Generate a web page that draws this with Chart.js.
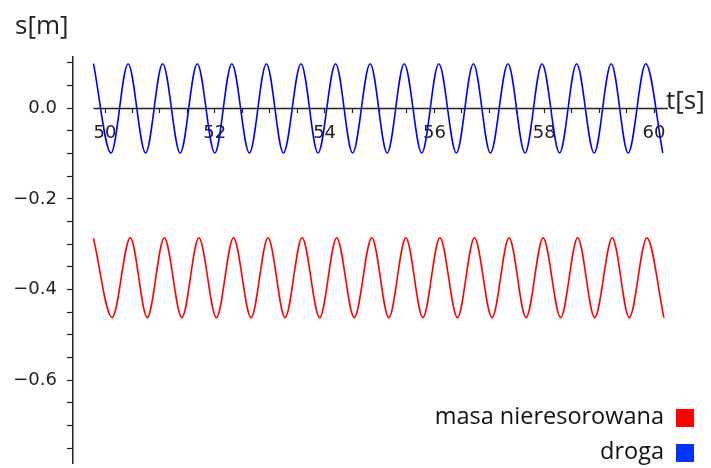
<!DOCTYPE html>
<html>
<head>
<meta charset="utf-8">
<script src="https://cdn.jsdelivr.net/npm/chart.js@4/dist/chart.umd.min.js"></script>
<style>
  html, body { margin: 0; padding: 0; background: #fff; }
  #wrap { width: 711px; height: 468px; }
</style>
</head>
<body>
<div id="wrap"><canvas id="plot" width="711" height="468"></canvas></div>
<script>
// extrema of each curve (time [s], position [m])
const drogaTimes = [49.79, 50.11, 50.42, 50.74, 51.05, 51.37, 51.68, 52.00, 52.31, 52.63,
  52.94, 53.25, 53.57, 53.88, 54.20, 54.51, 54.83, 55.14, 55.45, 55.77, 56.08, 56.40,
  56.71, 57.02, 57.34, 57.65, 57.96, 58.28, 58.59, 58.91, 59.22, 59.53, 59.85, 60.16];
const drogaValues = [0.098, -0.099, 0.098, -0.099, 0.098, -0.099, 0.098, -0.099, 0.098, -0.099,
  0.098, -0.099, 0.098, -0.099, 0.098, -0.099, 0.098, -0.099, 0.098, -0.099, 0.098, -0.099,
  0.098, -0.099, 0.098, -0.099, 0.098, -0.099, 0.098, -0.099, 0.098, -0.099, 0.098, -0.099];

const masaTimes = [49.79, 50.13, 50.46, 50.77, 51.08, 51.40, 51.71, 52.03, 52.34, 52.66,
  52.97, 53.28, 53.59, 53.91, 54.22, 54.54, 54.86, 55.17, 55.48, 55.79, 56.10, 56.42,
  56.73, 57.05, 57.36, 57.67, 57.98, 58.30, 58.61, 58.92, 59.24, 59.55, 59.87, 60.18];
const masaValues = [-0.287, -0.462, -0.286, -0.462, -0.286, -0.462, -0.286, -0.462, -0.286, -0.462,
  -0.286, -0.462, -0.286, -0.462, -0.286, -0.462, -0.286, -0.462, -0.286, -0.462, -0.286, -0.462,
  -0.286, -0.462, -0.286, -0.462, -0.286, -0.462, -0.286, -0.462, -0.286, -0.462, -0.286, -0.462];

const seriesNames = ["masa nieresorowana", "droga"];
const xLabeledTicks = [50, 52, 54, 56, 58, 60];
const yLabeledTicks = [-0.6, -0.4, -0.2, 0.0];

function toPoints(times, values) {
  return times.map((t, i) => ({ x: t, y: values[i] }));
}

const axisColor = "#222";

// x axis line (drawn at y = 0, only over the data range), axis names and legend
const extras = {
  id: "extras",
  afterDraw(chart) {
    const ctx = chart.ctx;
    const xs = chart.scales.x;
    const ys = chart.scales.y;
    const y0 = Math.round(ys.getPixelForValue(0)) + 0.5;
    ctx.save();
    ctx.strokeStyle = axisColor;
    ctx.lineWidth = 1.3;
    ctx.beginPath();
    ctx.moveTo(xs.getPixelForValue(drogaTimes[0]), y0);
    ctx.lineTo(chart.chartArea.right, y0);
    ctx.stroke();

    ctx.fillStyle = "#222";
    ctx.font = "26px 'Open Sans'";
    ctx.textBaseline = "middle";
    ctx.textAlign = "left";
    ctx.fillText("s[m]", 15, 27);
    ctx.fillText("t[s]", 666, y0 - 7);

    ctx.font = "23.5px 'Open Sans'";
    ctx.textAlign = "right";
    const rows = [
      { text: seriesNames[0], color: "#ff0000", y: 417 },
      { text: seriesNames[1], color: "#0033ff", y: 452 }
    ];
    rows.forEach((r) => {
      ctx.fillStyle = "#111";
      ctx.fillText(r.text, 664, r.y);
      ctx.fillStyle = r.color;
      ctx.fillRect(676, r.y - 8, 18, 18);
    });
    ctx.restore();
  }
};

new Chart(document.getElementById("plot").getContext("2d"), {
  type: "line",
  data: {
    datasets: [
      {
        label: seriesNames[0],
        data: toPoints(masaTimes, masaValues),
        borderColor: "#ff0000",
        borderWidth: 1.6,
        pointRadius: 0,
        cubicInterpolationMode: "monotone",
        fill: false
      },
      {
        label: seriesNames[1],
        data: toPoints(drogaTimes, drogaValues),
        borderColor: "#0000ff",
        borderWidth: 1.6,
        pointRadius: 0,
        cubicInterpolationMode: "monotone",
        fill: false
      }
    ]
  },
  plugins: [extras],
  options: {
    responsive: false,
    animation: false,
    layout: { padding: { top: 57, right: 43, bottom: 5, left: 0 } },
    plugins: {
      legend: { display: false },
      tooltip: { enabled: false }
    },
    scales: {
      x: {
        type: "linear",
        position: { y: 0 },
        min: 49.417,
        max: 60.255,
        afterFit(scale) {
          scale.height = 0;
          scale.paddingLeft = 0;
          scale.paddingRight = 0;
        },
        afterBuildTicks(scale) {
          const ticks = [];
          for (let v = 50; v <= 60.001; v += 0.5) ticks.push({ value: Math.round(v * 10) / 10 });
          scale.ticks = ticks;
        },
        border: { display: false },
        grid: {
          drawOnChartArea: false,
          drawTicks: true,
          tickLength: 5,
          tickColor: axisColor,
          tickWidth: 1.2
        },
        ticks: {
          autoSkip: false,
          maxRotation: 0,
          padding: 9,
          color: "#222",
          font: { family: "DejaVu Sans", size: 18 },
          callback: (v) => (xLabeledTicks.includes(v) ? String(v) : "")
        }
      },
      y: {
        type: "linear",
        min: -0.7826,
        max: 0.1128,
        afterFit(scale) {
          scale.width = 73;
          scale.paddingTop = 0;
          scale.paddingBottom = 0;
        },
        afterBuildTicks(scale) {
          const ticks = [];
          for (let k = -15; k <= 2; k++) ticks.push({ value: Math.round(k * 5) / 100 });
          scale.ticks = ticks;
        },
        border: { display: true, color: axisColor, width: 1.5 },
        grid: {
          drawOnChartArea: false,
          drawTicks: true,
          tickLength: 6,
          tickColor: axisColor,
          tickWidth: 1.2
        },
        ticks: {
          autoSkip: false,
          padding: 10,
          color: "#222",
          font: { family: "DejaVu Sans", size: 18 },
          callback: (v) => {
            const hit = yLabeledTicks.find((t) => Math.abs(t - v) < 1e-6);
            if (hit === undefined) return "";
            return Math.abs(hit) < 1e-9 ? "0.0" : hit.toFixed(1).replace("-", "\u2212");
          }
        }
      }
    }
  }
});
</script>
</body>
</html>
